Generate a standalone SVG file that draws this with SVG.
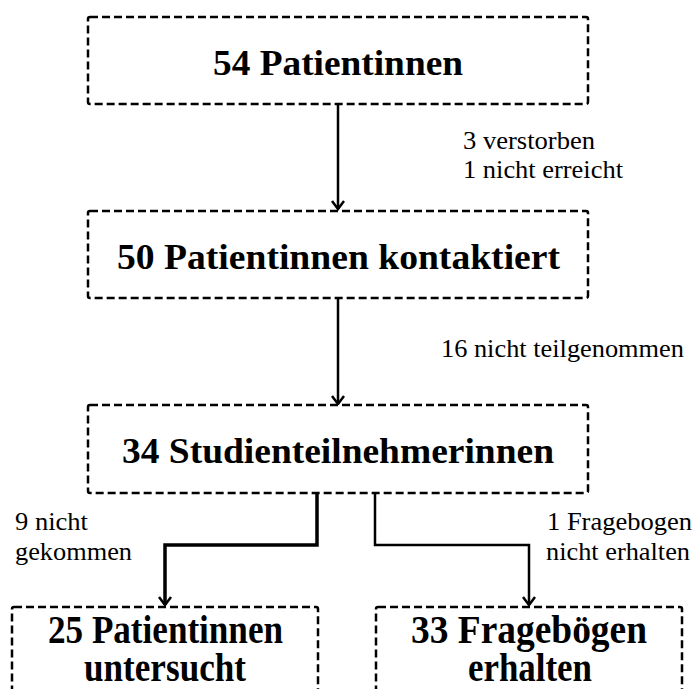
<svg xmlns="http://www.w3.org/2000/svg" width="693" height="689" viewBox="0 0 693 689">
<style>
.box{fill:#fff;stroke:#000;stroke-width:2.5;stroke-dasharray:8 4}
.c{fill:none;stroke:#000;stroke-width:2.5}
</style>
<defs>
<marker id="arr" markerUnits="userSpaceOnUse" viewBox="-10 -8 12 16" markerWidth="12" markerHeight="16" refX="0" refY="0" orient="auto">
<path d="M-8,-6 L0,0 L-8,6" fill="none" stroke="#000" stroke-width="2.5"/>
</marker>
</defs>
<rect width="693" height="689" fill="#fff"/>
<g id="connectors">
<path class="c" d="M338 104 V209" marker-end="url(#arr)"/>
<path class="c" d="M338 298 V404" marker-end="url(#arr)"/>
<path class="c" style="stroke-width:3.5" d="M317 493 V545 H165 V605" marker-end="url(#arr)"/>
<path class="c" d="M375 493 V545 H529 V605" marker-end="url(#arr)"/>
</g>
<g font-family="Liberation Serif, Times New Roman, serif" font-weight="bold" fill="#000">
<g id="n1">
<rect class="box" x="88" y="17" width="500" height="87" rx="2"/>
<text x="213" y="75" font-size="35" textLength="250" lengthAdjust="spacingAndGlyphs">54 Patientinnen</text>
</g>
<g id="n2">
<rect class="box" x="88" y="211" width="500" height="87" rx="2"/>
<text x="117" y="269" font-size="35" textLength="443" lengthAdjust="spacingAndGlyphs">50 Patientinnen kontaktiert</text>
</g>
<g id="n3">
<rect class="box" x="88" y="405" width="500" height="88" rx="2"/>
<text x="122" y="463" font-size="35" textLength="432" lengthAdjust="spacingAndGlyphs">34 Studienteilnehmerinnen</text>
</g>
<g id="n4">
<rect class="box" x="12" y="607" width="306" height="100" rx="2"/>
<text x="48" y="643" font-size="40" textLength="235" lengthAdjust="spacingAndGlyphs">25 Patientinnen</text>
<text x="84" y="681" font-size="40" textLength="162" lengthAdjust="spacingAndGlyphs">untersucht</text>
</g>
<g id="n5">
<rect class="box" x="376" y="607" width="306" height="100" rx="2"/>
<text x="411" y="643" font-size="40" textLength="236" lengthAdjust="spacingAndGlyphs">33 Fragebögen</text>
<text x="468" y="681" font-size="40" textLength="124" lengthAdjust="spacingAndGlyphs">erhalten</text>
</g>
</g>
<g id="labels" font-family="Liberation Serif, Times New Roman, serif" font-size="25" fill="#000">
<text x="463" y="149" textLength="132" lengthAdjust="spacingAndGlyphs">3 verstorben</text>
<text x="463" y="178" textLength="160" lengthAdjust="spacingAndGlyphs">1 nicht erreicht</text>
<text x="441" y="357" textLength="243" lengthAdjust="spacingAndGlyphs">16 nicht teilgenommen</text>
<text x="15" y="530" textLength="73" lengthAdjust="spacingAndGlyphs">9 nicht</text>
<text x="15" y="560" textLength="117" lengthAdjust="spacingAndGlyphs">gekommen</text>
<text x="547" y="530" textLength="145" lengthAdjust="spacingAndGlyphs">1 Fragebogen</text>
<text x="546" y="560" textLength="144" lengthAdjust="spacingAndGlyphs">nicht erhalten</text>
</g>
</svg>
